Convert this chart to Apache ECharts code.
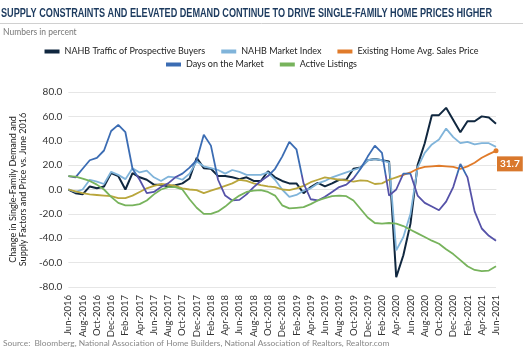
<!DOCTYPE html>
<html>
<head>
<meta charset="utf-8">
<script src="https://cdn.jsdelivr.net/npm/echarts@6/dist/echarts.min.js"></script>
<style>
  html, body { margin: 0; padding: 0; background: #fff; }
  #chart { width: 523px; height: 350px; }
</style>
</head>
<body>
<div id="chart"></div>
<script>
var months = [
    'Jun-2016', 'Jul-2016', 'Aug-2016', 'Sep-2016', 'Oct-2016', 'Nov-2016', 'Dec-2016',
    'Jan-2017', 'Feb-2017', 'Mar-2017', 'Apr-2017', 'May-2017', 'Jun-2017', 'Jul-2017', 'Aug-2017', 'Sep-2017', 'Oct-2017', 'Nov-2017', 'Dec-2017',
    'Jan-2018', 'Feb-2018', 'Mar-2018', 'Apr-2018', 'May-2018', 'Jun-2018', 'Jul-2018', 'Aug-2018', 'Sep-2018', 'Oct-2018', 'Nov-2018', 'Dec-2018',
    'Jan-2019', 'Feb-2019', 'Mar-2019', 'Apr-2019', 'May-2019', 'Jun-2019', 'Jul-2019', 'Aug-2019', 'Sep-2019', 'Oct-2019', 'Nov-2019', 'Dec-2019',
    'Jan-2020', 'Feb-2020', 'Mar-2020', 'Apr-2020', 'May-2020', 'Jun-2020', 'Jul-2020', 'Aug-2020', 'Sep-2020', 'Oct-2020', 'Nov-2020', 'Dec-2020',
    'Jan-2021', 'Feb-2021', 'Mar-2021', 'Apr-2021', 'May-2021', 'Jun-2021'
];

var traffic = [
    0, -3, -4, 2.5, 1, 2.5, 13.5, 11, 0, 13.5,
    10, 8, 4, 4, 2.5, 3.5, 5, 9, 26, 17.5,
    17, 11, 11, 10, 8.5, 10, 7, 7, 15, 10,
    7, 5, 5, -3, 2, 5.5, 2.5, 5, 8, 8,
    17, 18, 24, 25, 24, 23, -72, -54, -28, 20,
    38, 61, 61, 67, 57, 47, 56, 56, 60, 59, 54
];

var marketIndex = [
    0, -2, 0, 8, 6.5, 4.5, 14.5, 12, 8.5, 17.5,
    14, 15.5, 10, 7, 10.5, 10, 8, 13, 23, 19,
    17.5, 16, 13, 16, 14.5, 12, 12, 12, 14, 8,
    0, -6, -4.5, -1, 1, 5, 7, 10, 12, 14,
    16, 18, 24, 25, 24, 22, -50, -39, -20, 18,
    30, 37, 41, 50, 43, 38, 39, 37, 38, 38, 35
];

var salesPrice = [
    0, -1.5, -3, -4, -4.5, -5, -5.5, -7, -7, -5,
    -2, 1, 3, 4.5, 4, 3, 1, 0, -0.5, -3,
    -1, 1, 3, 5, 8, 7, 5, 3.5, 2.5, 2,
    0, -0.5, 1, 3, 6, 8, 10, 9, 8, 7.5,
    6.5, 7.5, 7, 4.5, 5, 8, 10, 12, 14, 17,
    18.5, 19, 19.5, 19, 18.5, 17, 19, 22, 26, 29, 31.7
];

var daysOnMarket = [
    11, 10, 17, 24, 26, 32, 48, 53, 47, 17,
    8, -3, -2, 2, 5, 10, 13, 18, 24, 45,
    36, 8, -5, -9, -8.5, -4, 2, 7, 11, 17,
    27, 39, 33, 5, -8, -9, -6, -2, 2, 4,
    9, 17, 27, 36, 30, -5, 0, 13, 13, -5,
    -11, -14, -17, -10, 2, 21, 10, -18, -32, -38, -42
];

var activeListings = [
    11, 10.5, 9, 7, 4, 0, -6, -11, -13, -13,
    -12, -9, -4, 0, 2, 2, 0, -8, -15, -20,
    -20, -18, -14, -9, -5, -2, -1, -0.5, -2, -5,
    -13, -15.5, -15, -14.5, -12, -9, -7, -5.5, -5, -5.5,
    -9, -16, -23, -27.5, -28, -27.5, -28, -30, -33, -36,
    -39, -42, -44.5, -49, -53, -58, -63, -66, -67, -66.5, -63
];

var yTicks = { min: -80, max: 80, step: 20 };

var element = document.getElementById('chart');
var myChart = echarts.init(element);

var font = 'Lato, "Open Sans", sans-serif';
var titleText = 'SUPPLY CONSTRAINTS AND ELEVATED DEMAND CONTINUE TO DRIVE SINGLE-FAMILY HOME PRICES HIGHER';
var titleFont = 'bold 13px "Liberation Sans", Arial, sans-serif';

// squeeze the title to the width it takes in the original (condensed face)
var ctx = document.createElement('canvas').getContext('2d');
ctx.font = titleFont;
var titleScale = 491 / ctx.measureText(titleText).width;

var colors = {
    traffic: '#10273f',
    market: '#80b4da',
    price: '#e07b2a',
    priceLow: '#b9a63c',
    days: '#3b6cb3',
    daysLow: '#5552a8',
    listings: '#77b35c'
};

// only the last point of the price series gets a dot
var priceData = salesPrice.map(function (v, i) {
    if (i === salesPrice.length - 1) {
        return { value: v, symbol: 'circle', symbolSize: 5 };
    }
    return v;
});

function lineSeries(name, data, color, width) {
    return {
        name: name,
        type: 'line',
        data: data,
        symbol: 'none',
        showSymbol: true,
        itemStyle: { color: color },
        lineStyle: { width: width || 1.8, color: color }
    };
}

var priceSeries = lineSeries('Existing Home Avg. Sales Price', priceData, colors.price);
priceSeries.endLabel = {
    show: true,
    formatter: function (p) {
        var v = typeof p.value === 'object' && p.value !== null ? p.value.value : p.value;
        return Number(v).toFixed(1);
    },
    backgroundColor: '#d9782d',
    color: '#fff',
    fontWeight: 'bold',
    fontFamily: font,
    fontSize: 10,
    padding: [3, 3, 2, 3],
    distance: 1,
    offset: [0, 13]
};

var legendText = { fontSize: 9, color: '#222', fontFamily: font };

var option = {
    animation: false,
    backgroundColor: '#fff',
    textStyle: { fontFamily: font },
    graphic: [
        {
            type: 'text',
            left: 1,
            top: 7,
            scaleX: titleScale,
            style: { text: titleText, fill: '#1c3a5e', font: titleFont }
        },
        {
            type: 'line',
            shape: { x1: 0, y1: 23.5, x2: 523, y2: 23.5 },
            style: { stroke: '#d0d0d0', lineWidth: 1 }
        },
        {
            type: 'text',
            left: 3,
            top: 28,
            style: { text: 'Numbers in percent', fill: '#777', font: '8.5px ' + font }
        },
        {
            type: 'text',
            left: 3,
            top: 339,
            style: {
                text: 'Source:  Bloomberg, National Association of Home Builders, National Association of Realtors, Realtor.com',
                fill: '#888',
                font: '8.4px ' + font
            }
        }
    ],
    legend: [
        {
            top: 42,
            left: 'center',
            itemWidth: 15,
            itemHeight: 4,
            itemGap: 16,
            icon: 'rect',
            textStyle: legendText,
            data: [
                { name: 'NAHB Traffic of Prospective Buyers', itemStyle: { color: colors.traffic } },
                { name: 'NAHB Market Index', itemStyle: { color: colors.market } },
                { name: 'Existing Home Avg. Sales Price', itemStyle: { color: colors.price } }
            ]
        },
        {
            top: 55,
            left: 'center',
            itemWidth: 15,
            itemHeight: 4,
            itemGap: 16,
            icon: 'rect',
            textStyle: legendText,
            data: [
                { name: 'Days on the Market', itemStyle: { color: colors.days } },
                { name: 'Active Listings', itemStyle: { color: colors.listings } }
            ]
        }
    ],
    grid: {
        left: 50,
        right: 27,
        top: 92,
        bottom: 63
    },
    xAxis: {
        type: 'category',
        data: months,
        boundaryGap: false,
        axisLine: { show: true, lineStyle: { color: '#e2e2e2' } },
        axisTick: { show: false },
        axisLabel: {
            rotate: 90,
            interval: 1,
            margin: 8,
            fontSize: 9.5,
            color: '#333',
            fontFamily: font
        }
    },
    yAxis: {
        type: 'value',
        min: yTicks.min,
        max: yTicks.max,
        interval: yTicks.step,
        name: 'Change in Single-Family Demand and\nSupply Factors and Price vs. June 2016',
        nameLocation: 'middle',
        nameRotate: 90,
        nameGap: 26,
        nameTextStyle: { fontSize: 9, color: '#222', lineHeight: 10, fontFamily: font },
        axisLine: { show: false },
        axisTick: { show: false },
        splitLine: { lineStyle: { color: '#e6e6e6' } },
        axisLabel: {
            margin: 6,
            fontSize: 10,
            color: '#333',
            fontFamily: font,
            formatter: function (v) {
                return v.toFixed(1);
            }
        }
    },
    series: [
        lineSeries('NAHB Traffic of Prospective Buyers', traffic, colors.traffic, 2),
        lineSeries('NAHB Market Index', marketIndex, colors.market),
        priceSeries,
        lineSeries('Days on the Market', daysOnMarket, colors.days),
        lineSeries('Active Listings', activeListings, colors.listings)
    ]
};

myChart.setOption(option);

// lines take a duller tint inside the lower band, as in the original
function splitGradient(value, low, high) {
    var h = myChart.getHeight();
    var y = myChart.convertToPixel({ yAxisIndex: 0 }, value) / h;
    return new echarts.graphic.LinearGradient(0, 0, 0, h, [
        { offset: 0, color: high },
        { offset: y, color: high },
        { offset: y, color: low },
        { offset: 1, color: low }
    ], true);
}

myChart.setOption({
    series: [
        {},
        {},
        { lineStyle: { color: splitGradient(11, colors.priceLow, colors.price) } },
        { lineStyle: { color: splitGradient(12, colors.daysLow, colors.days) } },
        {}
    ]
});
</script>
</body>
</html>
